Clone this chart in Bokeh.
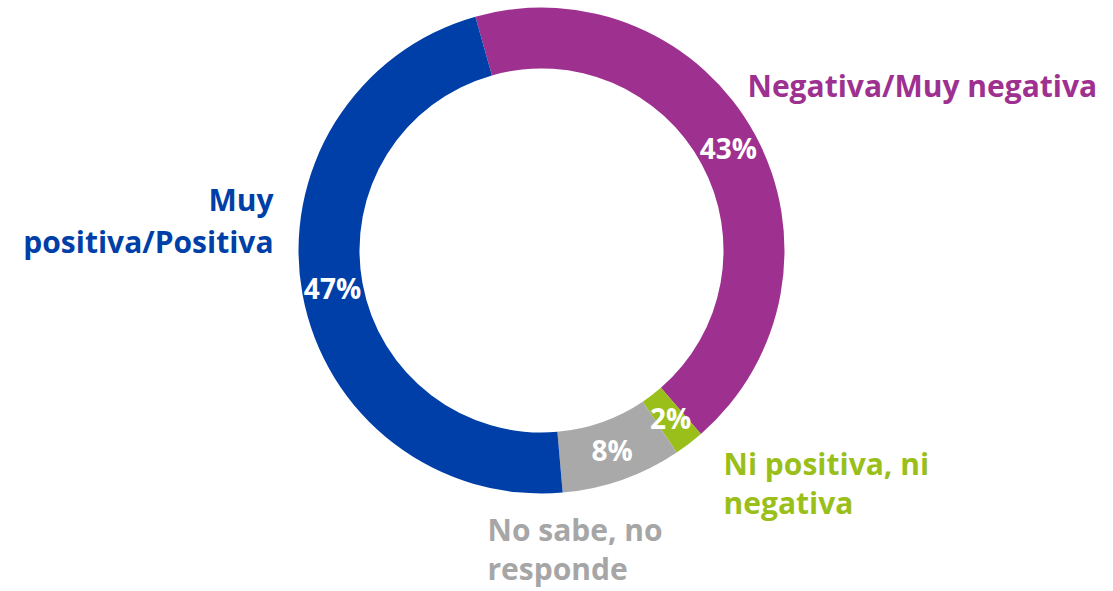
import numpy as np
from bokeh.plotting import figure
from bokeh.models import Range1d
from bokeh.embed import file_html
from bokeh.resources import INLINE
from bokeh.core.properties import value

# ---- data ----
categories = ["Negativa/Muy negativa", "Ni positiva, ni negativa",
              "No sabe, no responde", "Muy positiva/Positiva"]
values = [43, 2, 8, 47]
pct_labels = ["43%", "2%", "8%", "47%"]
colors = ["#9E3190", "#9ABF1A", "#A9A9A9", "#003FA7"]
text_colors = ["#9E3190", "#9ABF1A", "#A6A6A6", "#003FA7"]
label_lines = [["Negativa/Muy negativa"],
               ["Ni positiva, ni", "negativa"],
               ["No sabe, no", "responde"],
               ["Muy", "positiva/Positiva"]]

# ---- layout (window pixel coordinates; y flipped) ----
W, H = 1113, 591
FONT = "Open Sans"
FS_LAB = "30px"
FS_PCT = "28px"
LABEL_DY = 10  # compensate baseline rendering offset
cx, cy = 541, H - 250
r_out, r_in = 243, 182
start_clock_deg = -15.8  # clockwise from 12 o'clock

p = figure(width=W, height=H, output_backend="svg", toolbar_location=None,
           x_range=Range1d(0, W), y_range=Range1d(0, H), min_border=0)
p.axis.visible = False
p.grid.visible = False
p.outline_line_color = None
p.background_fill_color = "white"

vals = np.array(values, dtype=float)
frac = vals / vals.sum()
cum = np.concatenate([[0], np.cumsum(frac)])
clock_start = start_clock_deg + cum[:-1] * 360
clock_end = start_clock_deg + cum[1:] * 360
# convert to math angles (ccw from +x)
a_start = np.radians(90 - clock_start)
a_end = np.radians(90 - clock_end)

p.annular_wedge(x=[cx] * 4, y=[cy] * 4, inner_radius=r_in, outer_radius=r_out,
                start_angle=list(a_start), end_angle=list(a_end), direction="clock",
                fill_color=colors, line_color=None)

mid = (a_start + a_end) / 2
r_mid = (r_in + r_out) / 2
p.text(x=list(cx + r_mid * np.cos(mid)), y=list(cy + r_mid * np.sin(mid) + 1),
       text=pct_labels, text_color="white", text_font=value(FONT),
       text_font_style="bold", text_font_size=FS_PCT, text_align="center",
       text_baseline="middle")

# category labels: (x, first baseline y, line gap, align)
label_pos = [(747, 95, 0, "left"),
             (723, 473, 39, "left"),
             (487, 539, 39, "left"),
             (273, 209, 42, "right")]
for lines, col, (lx, ly, gap, al) in zip(label_lines, text_colors, label_pos):
    xs = [lx] * len(lines)
    ys = [H - (ly + i * gap) + LABEL_DY for i in range(len(lines))]
    p.text(x=xs, y=ys, text=lines, text_color=col, text_font=value(FONT),
           text_font_style="bold", text_font_size=FS_LAB, text_align=al,
           text_baseline="alphabetic")

open("out.html", "w").write(file_html(p, INLINE))
